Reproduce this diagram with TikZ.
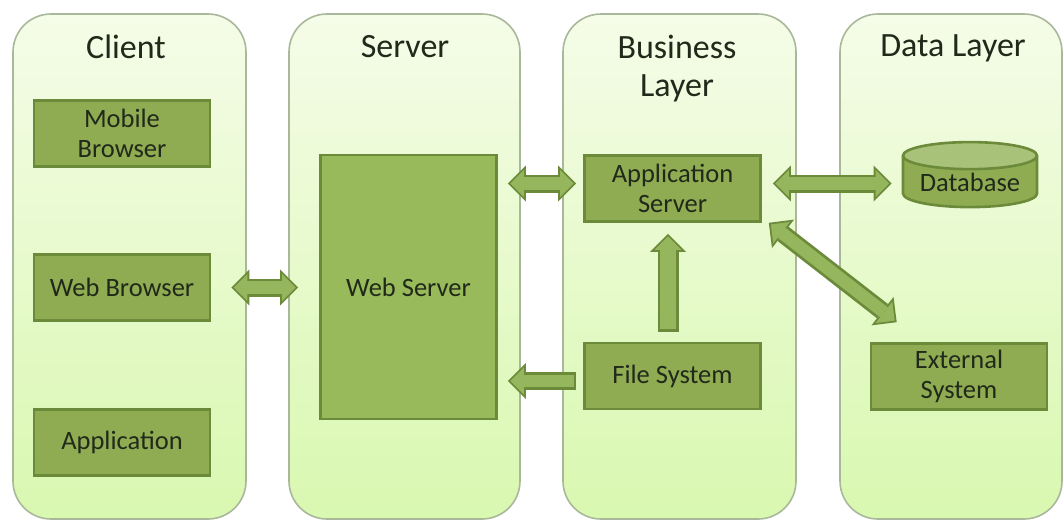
\documentclass[tikz,border=0pt]{standalone}
\usepackage{fontspec}
\setmainfont{Carlito}
\usetikzlibrary{arrows.meta,shapes.geometric,calc}
\definecolor{panelline}{HTML}{A9B89A}
\definecolor{paneltop}{HTML}{F5FCE8}
\definecolor{panelbot}{HTML}{D9F8B0}
\definecolor{boxfill}{HTML}{8FAC52}
\definecolor{serverfill}{HTML}{99BA5A}
\definecolor{boxline}{HTML}{6B8A3A}
\definecolor{arrowlight}{HTML}{95B65C}
\definecolor{inktext}{HTML}{20291A}
\definecolor{dbtop}{HTML}{A9C27A}
\tikzset{
  panel/.style={draw=panelline,line width=1.6pt,rounded corners=38pt,top color=paneltop,bottom color=panelbot,minimum height=505pt,inner sep=0pt},
  title/.style={font=\fontsize{34}{38}\selectfont,text=inktext,align=center,inner sep=0pt},
  box/.style={draw=boxline,line width=2.6pt,fill=boxfill,minimum width=176pt,minimum height=66pt,inner sep=0pt,align=center,font=\fontsize{26.5}{30.5}\selectfont,text=inktext},
  headout/.tip={Triangle[length=18pt,width=36pt,line width=0pt]},
  headin/.tip={Triangle[length=13.5pt,width=27pt,line width=0pt]},
  bothblock/.style 2 args={preaction={draw=boxline,line width=18pt,shorten <=#1,shorten >=#2,{headout}-{headout}},draw=arrowlight,line width=12.5pt,shorten <=#1+2.6pt,shorten >=#2+2.6pt,{headin}-{headin}},
  oneblock/.style 2 args={preaction={draw=boxline,line width=21pt,shorten <=#1,shorten >=#2,-{headout}},draw=arrowlight,line width=15.5pt,shorten <=#1+2.6pt,shorten >=#2+2.6pt,-{headin}},
  oneblockthin/.style 2 args={preaction={draw=boxline,line width=18pt,shorten <=#1,shorten >=#2,-{headout}},draw=arrowlight,line width=12.5pt,shorten <=#1+2.6pt,shorten >=#2+2.6pt,-{headin}}
}
\begin{document}
\begin{tikzpicture}[x=1pt,y=-1pt]
\useasboundingbox (0,0) rectangle (1064,520);
\fill[white] (0,0) rectangle (1064,520);
% panels
\node[panel,minimum width=233pt] (pclient) at (129.5,266.5) {};
\node[panel,minimum width=231pt] (pserver) at (404.5,266.5) {};
\node[panel,minimum width=233pt] (pbusiness) at (679.5,266.5) {};
\node[panel,minimum width=222pt] (pdata) at (951,266.5) {};
% titles
\node[title] (tclient) at (126,47) {Client};
\node[title] (tserver) at (405,47) {Server};
\node[title] (tbusiness) at (677,69) {Business\\Layer};
\node[title] (tdata) at (953,48) {Data Layer};
% boxes
\node[box] (mobile) at (122,133.5) {Mobile\\Browser};
\node[box] (webbrowser) at (122,287.5) {Web Browser};
\node[box] (application) at (122,442.5) {Application};
\node[box,fill=serverfill,minimum width=176pt,minimum height=264pt] (webserver) at (408.5,287) {Web Server};
\node[box] (appserver) at (672.5,188.5) {Application\\Server};
\node[box] (filesystem) at (672.5,376) {File System};
\node[box] (external) at (959,376.5) {External\\System};
\node[draw=boxline,line width=2.6pt,shape=cylinder,shape border rotate=90,aspect=0.27,minimum width=134pt,minimum height=65pt,inner sep=0pt,cylinder uses custom fill,cylinder body fill=boxfill,cylinder end fill=dbtop,font=\fontsize{26.5}{30}\selectfont,text=inktext] (database) at (970,182) {Database};
% connectors
\draw[bothblock={20pt}{21pt}] (webbrowser.east) -- (webserver.west |- webbrowser.east);
\draw[bothblock={10pt}{7pt}] ([yshift=5pt]webserver.east |- appserver.west) -- ([yshift=5pt]appserver.west);
\draw[bothblock={11pt}{10pt}] ([yshift=5pt]appserver.east) -- ([yshift=5pt]database.west |- appserver.east);
\draw[oneblock={10pt}{11pt}] (filesystem.north -| 668,0) -- (appserver.south -| 668,0);
\draw[oneblockthin={7pt}{10pt}] ([yshift=-5pt]filesystem.west) -- ([yshift=-5pt]webserver.east |- filesystem.west);
\draw[bothblock={0pt}{0pt}] ([xshift=7pt]appserver.south east) -- ([xshift=27pt,yshift=20pt]external.north west);
\end{tikzpicture}
\end{document}
